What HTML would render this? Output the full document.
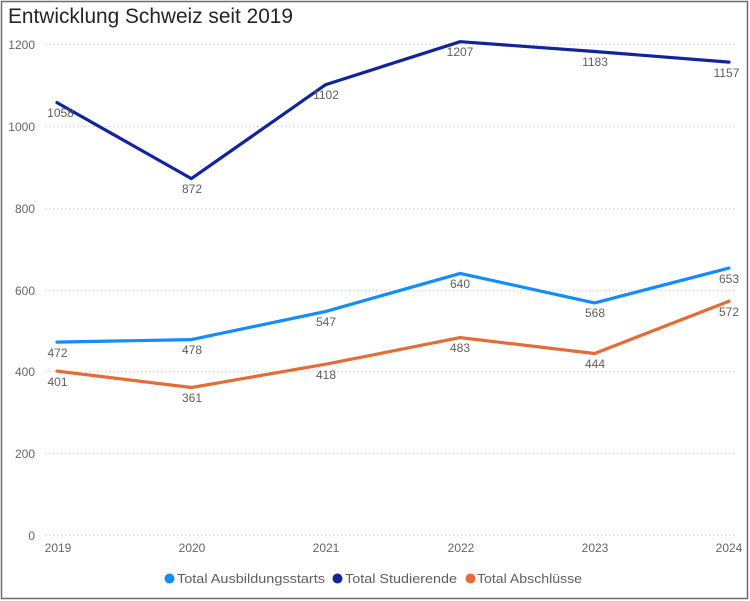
<!DOCTYPE html>
<html><head><meta charset="utf-8"><style>
html,body{margin:0;padding:0;background:#fff;}
svg{display:block;}
text{font-family:"Liberation Sans","DejaVu Sans",sans-serif;}
</style></head><body>
<svg width="750" height="601" viewBox="0 0 750 601" xmlns="http://www.w3.org/2000/svg">
<rect x="0" y="0" width="750" height="601" fill="#fff"/>
<rect x="1.5" y="1.5" width="746" height="597" fill="none" stroke="#6b6b6b" stroke-width="1.5"/>
<text x="8" y="23" font-size="21" fill="#252423" textLength="285" lengthAdjust="spacingAndGlyphs">Entwicklung Schweiz seit 2019</text>
<g stroke="#c8c8c8" stroke-width="1" stroke-dasharray="1 3">
<line x1="45" y1="44.5" x2="737" y2="44.5"/>
<line x1="45" y1="126.5" x2="737" y2="126.5"/>
<line x1="45" y1="208.5" x2="737" y2="208.5"/>
<line x1="45" y1="290.5" x2="737" y2="290.5"/>
<line x1="45" y1="371.5" x2="737" y2="371.5"/>
<line x1="45" y1="453.5" x2="737" y2="453.5"/>
<line x1="45" y1="535.5" x2="737" y2="535.5"/>
</g>
<g font-size="12" fill="#666" text-anchor="end">
<text x="35" y="49">1200</text>
<text x="35" y="131">1000</text>
<text x="35" y="213">800</text>
<text x="35" y="295">600</text>
<text x="35" y="376">400</text>
<text x="35" y="458">200</text>
<text x="35" y="540">0</text>
</g>
<g font-size="12" fill="#666" text-anchor="middle">
<text x="58" y="552">2019</text>
<text x="192" y="552">2020</text>
<text x="326" y="552">2021</text>
<text x="461" y="552">2022</text>
<text x="595" y="552">2023</text>
<text x="729" y="552">2024</text>
</g>
<g fill="none" stroke-width="3.2" stroke-linejoin="round" stroke-linecap="round">
<polyline stroke="#12239E" points="57,102.6 191.4,178.6 325.8,84.6 460.2,41.7 594.6,51.5 729,62.1"/>
<polyline stroke="#118DFF" points="57,342.1 191.4,339.6 325.8,311.4 460.2,273.4 594.6,302.9 729,268.1"/>
<polyline stroke="#E66C37" points="57,371.1 191.4,387.5 325.8,364.2 460.2,337.6 594.6,353.5 729,301.2"/>
</g>
<g font-size="12" fill="#605e5c" text-anchor="middle">
<text x="60.5" y="117">1058</text>
<text x="192" y="193">872</text>
<text x="326" y="99">1102</text>
<text x="460" y="56">1207</text>
<text x="595" y="66">1183</text>
<text x="726.5" y="77">1157</text>
<text x="57.5" y="357">472</text>
<text x="192" y="354">478</text>
<text x="326" y="326">547</text>
<text x="460" y="288">640</text>
<text x="595" y="317">568</text>
<text x="729" y="283">653</text>
<text x="57.5" y="386">401</text>
<text x="192" y="402">361</text>
<text x="326" y="379">418</text>
<text x="460" y="352">483</text>
<text x="595" y="368">444</text>
<text x="729" y="316">572</text>
</g>
<circle cx="169.5" cy="578.5" r="5" fill="#118DFF"/>
<text x="177" y="583" font-size="13" fill="#605e5c" textLength="148" lengthAdjust="spacingAndGlyphs">Total Ausbildungsstarts</text>
<circle cx="337.5" cy="578.5" r="5" fill="#12239E"/>
<text x="345" y="583" font-size="13" fill="#605e5c" textLength="112" lengthAdjust="spacingAndGlyphs">Total Studierende</text>
<circle cx="470.5" cy="578.5" r="5" fill="#E66C37"/>
<text x="477" y="583" font-size="13" fill="#605e5c" textLength="105" lengthAdjust="spacingAndGlyphs">Total Abschlüsse</text>
</svg>
</body></html>
